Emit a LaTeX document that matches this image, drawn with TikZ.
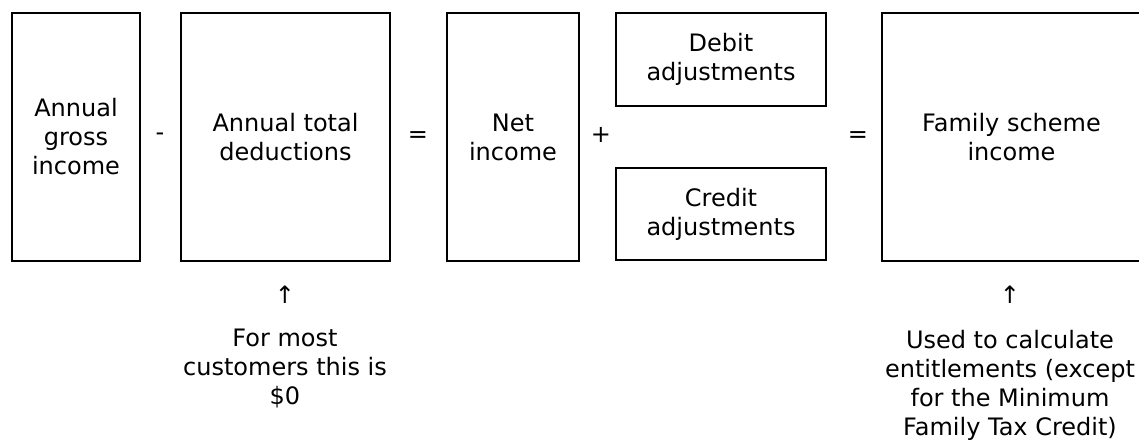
\documentclass[tikz,border=0pt]{standalone}
\usepackage{fontspec}
\setmainfont{DejaVu Sans}
\begin{document}
\begin{tikzpicture}[x=1pt,y=-1pt,
  box/.style={draw=black,line width=2pt,minimum width=#1,inner sep=0pt,align=center,
    font=\fontsize{24}{29}\selectfont},
  op/.style={inner sep=0pt,font=\fontsize{24}{29}\selectfont},
  note/.style={inner sep=0pt,align=center,font=\fontsize{24}{29}\selectfont}]
\useasboundingbox (0,0) rectangle (1139,439);
\begin{scope}
\clip (0,0) rectangle (1139,439);
\node[box=128pt,minimum height=248pt] (gross) at (76,137) {Annual\\gross\\income};
\node[box=209pt,minimum height=248pt] (ded) at (285.5,137) {Annual total\\deductions};
\node[box=132pt,minimum height=248pt] (net) at (513,137) {Net\\income};
\node[box=210pt,minimum height=93pt] (debit) at (721,59.5) {Debit\\adjustments};
\node[box=210pt,minimum height=92pt] (credit) at (721,214) {Credit\\adjustments};
\node[box=259pt,minimum height=248pt] (fam) at (1011.5,137) {Family scheme\\income};
\end{scope}
\node[op] (minus) at (160,137) {-};
\node[op] (eq1) at (418,137) {=};
\node[op] (plus) at (601,135) {+};
\node[op] (eq2) at (858,137) {=};
\node[op] (up1) at (285,295) {↑};
\node[op] (up2) at (1010,295) {↑};
\node[note] (n1) at (285,369) {For most\\customers this is\\\$0};
\node[note] (n2) at (1010,385) {Used to calculate\\entitlements (except\\for the Minimum\\Family Tax Credit)};
\end{tikzpicture}
\end{document}
